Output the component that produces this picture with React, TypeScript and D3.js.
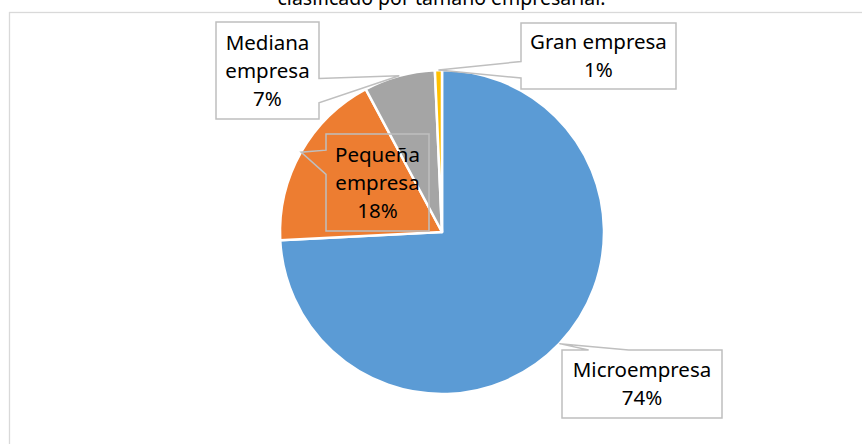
import React, { useEffect, useRef } from 'react';
import * as d3 from 'd3';

// datos del gráfico
const categories = ['Microempresa', 'Pequeña empresa', 'Mediana empresa', 'Gran empresa'];
const shares = [74.2, 18.0, 7.1, 0.7];
const labelLines = [['Microempresa'], ['Pequeña', 'empresa'], ['Mediana', 'empresa'], ['Gran empresa']];
const colors = ['#5B9BD5', '#ED7D31', '#A5A5A5', '#FFC000'];
const title = 'clasificado por tamaño empresarial.';

// cajas de las etiquetas (x0, y0, x1, y1)
const calloutBoxes = [
  { x0: 562, y0: 350, x1: 722, y1: 418, fill: '#fff' },
  { x0: 326, y0: 134, x1: 429, y1: 231, fill: 'none' },
  { x0: 216, y0: 22, x1: 319, y1: 119, fill: '#fff' },
  { x0: 521, y0: 23, x1: 676, y1: 89, fill: '#fff' },
];

const W = 862;
const H = 444;

type Pt = [number, number];

// forma tipo "wedgeRectCallout" de Excel
function calloutPath(b: { x0: number; y0: number; x1: number; y1: number }, tip: Pt) {
  const w = b.x1 - b.x0;
  const h = b.y1 - b.y0;
  const cx = (b.x0 + b.x1) / 2;
  const cy = (b.y0 + b.y1) / 2;
  const dx = (tip[0] - cx) / w;
  const dy = (tip[1] - cy) / h;
  const p = d3.path();
  if (Math.abs(dx) > Math.abs(dy)) {
    const a = b.y0 + h * (dy < 0 ? 2 / 12 : 7 / 12);
    const c = b.y0 + h * (dy < 0 ? 5 / 12 : 10 / 12);
    if (dx < 0) {
      p.moveTo(b.x0, b.y0); p.lineTo(b.x1, b.y0); p.lineTo(b.x1, b.y1); p.lineTo(b.x0, b.y1);
      p.lineTo(b.x0, c); p.lineTo(tip[0], tip[1]); p.lineTo(b.x0, a);
    } else {
      p.moveTo(b.x0, b.y0); p.lineTo(b.x1, b.y0); p.lineTo(b.x1, a); p.lineTo(tip[0], tip[1]);
      p.lineTo(b.x1, c); p.lineTo(b.x1, b.y1); p.lineTo(b.x0, b.y1);
    }
  } else {
    const a = b.x0 + w * (dx < 0 ? 2 / 12 : 7 / 12);
    const c = b.x0 + w * (dx < 0 ? 5 / 12 : 10 / 12);
    if (dy < 0) {
      p.moveTo(b.x0, b.y0); p.lineTo(a, b.y0); p.lineTo(tip[0], tip[1]); p.lineTo(c, b.y0);
      p.lineTo(b.x1, b.y0); p.lineTo(b.x1, b.y1); p.lineTo(b.x0, b.y1);
    } else {
      p.moveTo(b.x0, b.y0); p.lineTo(b.x1, b.y0); p.lineTo(b.x1, b.y1); p.lineTo(c, b.y1);
      p.lineTo(tip[0], tip[1]); p.lineTo(a, b.y1); p.lineTo(b.x0, b.y1);
    }
  }
  p.closePath();
  return p.toString();
}

const App: React.FC = () => {
  const svgRef = useRef<SVGSVGElement>(null);

  useEffect(() => {
    if (!svgRef.current) return;
    const svg = d3.select(svgRef.current);
    svg.selectAll('*').remove();

    const font = "'Noto Sans', sans-serif";
    const cx = 442;
    const cy = 232;
    const r = 162;

    // marco del área del gráfico
    svg.append('rect')
      .attr('x', 9.5).attr('y', 12.5)
      .attr('width', 880).attr('height', 460)
      .attr('fill', '#fff')
      .attr('stroke', '#D9D9D9')
      .attr('stroke-width', 1.3);

    // título (cortado arriba)
    svg.append('text')
      .attr('x', 441.5).attr('y', 5)
      .attr('text-anchor', 'middle')
      .attr('font-family', font)
      .attr('font-size', '19.5px')
      .attr('fill', '#000')
      .text(title);

    const data = categories.map((c, i) => ({ name: c, value: shares[i], i }));
    const pie = d3.pie<typeof data[0]>().sort(null).value(d => d.value);
    const arcs = pie(data);
    const arc = d3.arc<d3.PieArcDatum<typeof data[0]>>().innerRadius(0).outerRadius(r);

    const g = svg.append('g').attr('transform', `translate(${cx},${cy})`);
    g.selectAll('path.slice')
      .data(arcs)
      .enter()
      .append('path')
      .attr('class', 'slice')
      .attr('d', arc)
      .attr('fill', d => colors[d.data.i])
      .attr('stroke', '#fff')
      .attr('stroke-width', 2.5)
      .attr('stroke-linejoin', 'round');

    // etiquetas con llamada
    const lineH = 28;
    const fs = 20.5;
    arcs.forEach(a => {
      const i = a.data.i;
      const b = calloutBoxes[i];
      const mid = (a.startAngle + a.endAngle) / 2;
      const tip: Pt = [cx + r * Math.sin(mid), cy - r * Math.cos(mid)];
      svg.append('path')
        .attr('d', calloutPath(b, tip))
        .attr('fill', b.fill)
        .attr('stroke', '#BFBFBF')
        .attr('stroke-width', 1.5);

      const lines = [...labelLines[i], `${Math.round(a.data.value)}%`];
      const bcx = (b.x0 + b.x1) / 2;
      const bcy = (b.y0 + b.y1) / 2;
      const first = bcy - ((lines.length - 1) / 2) * lineH + fs * 0.357;
      const t = svg.append('text')
        .attr('text-anchor', 'middle')
        .attr('font-family', font)
        .attr('font-size', `${fs}px`)
        .attr('fill', '#000');
      lines.forEach((ln, k) => {
        t.append('tspan').attr('x', bcx).attr('y', first + k * lineH).text(ln);
      });
    });
  }, []);

  return (
    <div style={{ position: 'absolute', left: 0, top: 0, width: W, height: H, background: '#fff' }}>
      <svg ref={svgRef} width={W} height={H} style={{ display: 'block' }} />
    </div>
  );
};

export default App;
